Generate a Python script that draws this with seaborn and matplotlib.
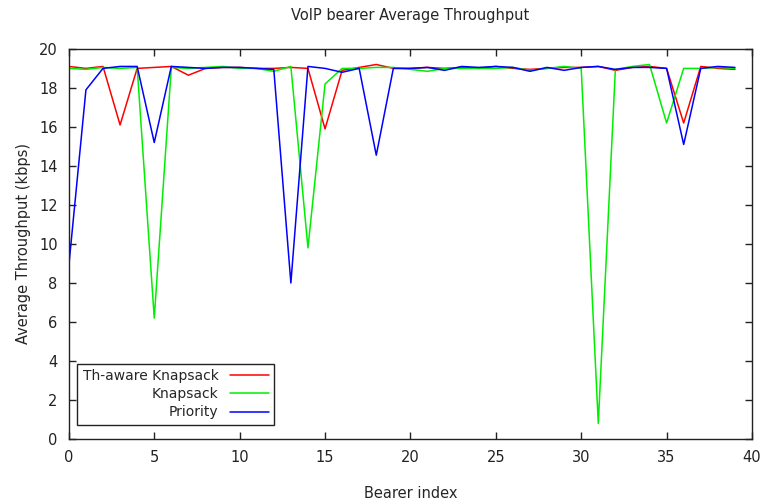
import numpy as np
import pandas as pd
import matplotlib
matplotlib.use("Agg")
import matplotlib.pyplot as plt
import seaborn as sns

sns.set_style("white")
plt.rcParams['font.family'] = ['DejaVu Sans']

bearer = list(range(40))
th_aware = [19.1, 19.0, 19.1, 16.1, 19.0, 19.05, 19.1, 18.65, 19.0, 19.05,
            19.05, 19.0, 19.0, 19.05, 19.0, 15.9, 18.9, 19.05, 19.2, 19.0,
            19.0, 19.05, 19.0, 19.05, 19.0, 19.1, 19.0, 18.95, 19.0, 19.05,
            19.05, 19.1, 18.9, 19.05, 19.1, 19.0, 16.2, 19.1, 19.0, 18.95]
knapsack = [19.0, 18.95, 19.05, 19.0, 19.05, 6.2, 19.05, 19.0, 19.05, 19.1,
            19.0, 19.0, 18.85, 19.1, 9.8, 18.2, 19.0, 19.0, 19.05, 19.05,
            18.95, 18.85, 19.0, 19.0, 19.0, 19.0, 19.05, 18.9, 19.0, 19.1,
            19.0, 0.8, 18.95, 19.1, 19.2, 16.2, 19.0, 19.0, 19.05, 19.0]
priority = [8.9, 17.9, 19.0, 19.1, 19.1, 15.2, 19.1, 19.05, 19.0, 19.05,
            19.05, 19.0, 18.95, 8.0, 19.1, 19.0, 18.8, 19.0, 14.55, 19.0,
            19.0, 19.05, 18.9, 19.1, 19.05, 19.1, 19.05, 18.85, 19.05, 18.9,
            19.05, 19.1, 18.95, 19.05, 19.05, 19.0, 15.1, 19.0, 19.1, 19.05]

df = pd.DataFrame({'Bearer index': bearer,
                   'Th-aware Knapsack': th_aware,
                   'Knapsack': knapsack,
                   'Priority': priority})
long = df.melt(id_vars='Bearer index', var_name='scheme',
               value_name='Average Throughput (kbps)')

fig = plt.figure(figsize=(7.65, 5.04), dpi=100)
ax = fig.add_axes([0.090, 0.129, 0.893, 0.774])
sns.lineplot(data=long, x='Bearer index', y='Average Throughput (kbps)',
             hue='scheme', palette=['#ff0000', '#00ee00', '#0000ff'],
             linewidth=1.1, ax=ax)

ax.set_xlim(0, 40)
ax.set_ylim(0, 20)
ax.set_xticks(range(0, 41, 5))
ax.set_yticks(range(0, 21, 2))
ax.tick_params(direction='in', length=5, width=1, bottom=True, left=True,
               top=True, right=True, labelsize=10.5, colors='#222222', pad=8)
for s in ax.spines.values():
    s.set_color('#222222')
    s.set_linewidth(1)
ax.set_title('VoIP bearer Average Throughput', fontsize=10.5, pad=21)
ax.set_xlabel('Bearer index', fontsize=10.5, labelpad=15)
ax.set_ylabel('Average Throughput (kbps)', fontsize=10.5, labelpad=6)

leg = ax.legend(title=None, loc='lower left', markerfirst=False,
                fontsize=10, fancybox=False, framealpha=1,
                edgecolor='#222222', handlelength=2.8,
                borderaxespad=0.5, labelspacing=0.3,
                bbox_to_anchor=(0.002, 0.018))
for t in leg.get_texts():
    t.set_ha('right')
leg._legend_box.align = 'right'

fig.savefig('out.png', dpi=100)
